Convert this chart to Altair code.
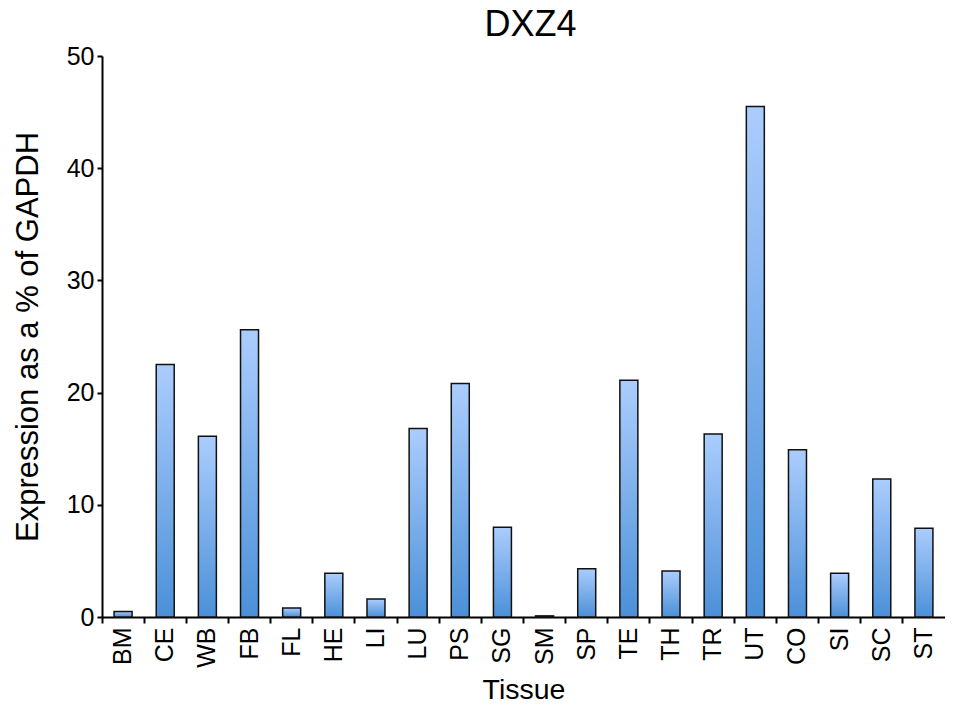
import altair as alt
import pandas as pd

tissues = ["BM", "CE", "WB", "FB", "FL", "HE", "LI", "LU", "PS", "SG",
           "SM", "SP", "TE", "TH", "TR", "UT", "CO", "SI", "SC", "ST"]
values = [0.5, 22.5, 16.1, 25.6, 0.8, 3.9, 1.6, 16.8, 20.8, 8.0,
          0.1, 4.3, 21.1, 4.1, 16.3, 45.5, 14.9, 3.9, 12.3, 7.9]
y_ticks = [0, 10, 20, 30, 40, 50]

df = pd.DataFrame({"Tissue": tissues, "Value": values})

FONT = "Liberation Sans"

grad = alt.Gradient(
    gradient="linear",
    stops=[alt.GradientStop(color="#abcdfd", offset=0),
           alt.GradientStop(color="#4b90d8", offset=1)],
    x1=0, x2=0, y1=0, y2=1,
)

chart = alt.Chart(df).mark_bar(
    size=18, color=grad, stroke="#111111", strokeWidth=1.5
).encode(
    x=alt.X("Tissue:N", sort=tissues,
            scale=alt.Scale(paddingInner=0, paddingOuter=0),
            axis=alt.Axis(title="Tissue", labelAngle=-90, bandPosition=0,
                          labelFontSize=25, titleFontSize=28.5, labelFont=FONT,
                          titleFont=FONT, labelColor="black", titleColor="black",
                          domainColor="black", domainWidth=2, tickColor="black",
                          tickWidth=2, tickSize=6, labelPadding=4, titlePadding=8,
                          titleFontWeight="normal")),
    y=alt.Y("Value:Q", scale=alt.Scale(domain=[0, 50], nice=False),
            axis=alt.Axis(title="Expression as a % of GAPDH", values=y_ticks,
                          labelFontSize=25, titleFontSize=31, labelFont=FONT,
                          titleFont=FONT, labelColor="black", titleColor="black",
                          domainColor="black", domainWidth=2, tickColor="black",
                          tickWidth=2, tickSize=5, grid=False, labelPadding=3,
                          titlePadding=22, titleFontWeight="normal")),
).properties(
    width=843, height=561,
    title=alt.TitleParams("DXZ4", fontSize=36, font=FONT, fontWeight="normal",
                          color="black", offset=0, dx=7),
    autosize=alt.AutoSizeParams(type="none"),
    padding={"left": 94, "top": 48, "right": 0, "bottom": 87},
).configure_view(stroke=None)

chart.save("out.html", embed_options={"renderer": "svg", "actions": False})
